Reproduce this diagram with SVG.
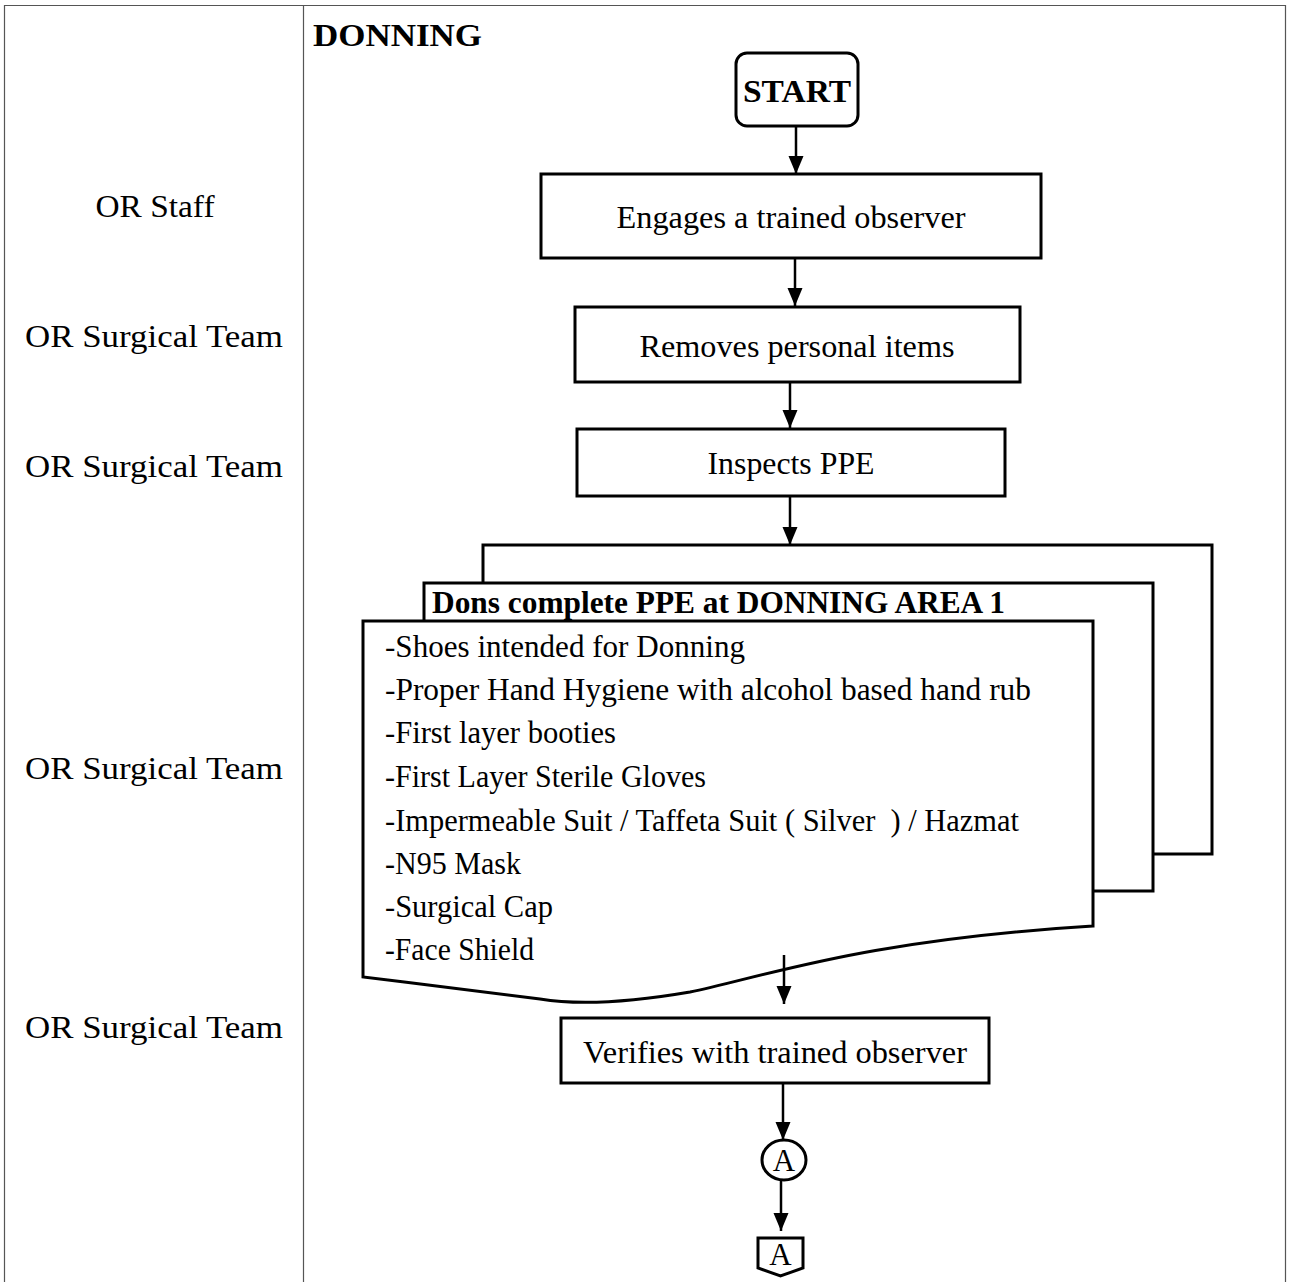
<svg xmlns="http://www.w3.org/2000/svg" width="1292" height="1282" viewBox="0 0 1292 1282">
  <style>
    .grid { fill: none; stroke: #555; stroke-width: 1.2; }
    .box { fill: #fff; stroke: #000; stroke-width: 3; }
    .edge { fill: none; stroke: #000; stroke-width: 2.5; }
    .t { font-family: "Liberation Serif", "DejaVu Serif", serif; font-size: 31px; fill: #000; }
    .c { text-anchor: middle; }
    .b { font-weight: bold; }
  </style>
  <defs>
    <marker id="tip" markerUnits="userSpaceOnUse" markerWidth="18" markerHeight="16" refX="18" refY="8" orient="auto" viewBox="0 0 18 16">
      <path d="M0,0.5 L18,8 L0,15.5 Z" fill="#000"/>
    </marker>
  </defs>

  <rect width="1292" height="1282" fill="#fff"/>

  <!-- swimlane table frame -->
  <g id="frame">
    <path class="grid" d="M4.5,1282 V5.5 H1285.5 V1282"/>
    <path class="grid" d="M303.5,5.5 V1282"/>
    <text class="t b" x="313" y="46" textLength="169" lengthAdjust="spacingAndGlyphs">DONNING</text>
  </g>

  <!-- role labels -->
  <g id="lanes">
    <text class="t c" x="155" y="217" textLength="119" lengthAdjust="spacingAndGlyphs">OR Staff</text>
    <text class="t c" x="154" y="347" textLength="258" lengthAdjust="spacingAndGlyphs">OR Surgical Team</text>
    <text class="t c" x="154" y="477" textLength="258" lengthAdjust="spacingAndGlyphs">OR Surgical Team</text>
    <text class="t c" x="154" y="779" textLength="258" lengthAdjust="spacingAndGlyphs">OR Surgical Team</text>
    <text class="t c" x="154" y="1038" textLength="258" lengthAdjust="spacingAndGlyphs">OR Surgical Team</text>
  </g>

  <g id="start">
    <rect class="box" x="736" y="53" width="122" height="73" rx="11"/>
    <text class="t c b" x="797" y="102" textLength="108" lengthAdjust="spacingAndGlyphs">START</text>
  </g>

  <g id="engage">
    <rect class="box" x="541" y="174" width="500" height="84"/>
    <text class="t c" x="791" y="228" textLength="349" lengthAdjust="spacingAndGlyphs">Engages a trained observer</text>
  </g>

  <g id="remove">
    <rect class="box" x="575" y="307" width="445" height="75"/>
    <text class="t c" x="797" y="357" textLength="315" lengthAdjust="spacingAndGlyphs">Removes personal items</text>
  </g>

  <g id="inspect">
    <rect class="box" x="577" y="429" width="428" height="67"/>
    <text class="t c" x="791" y="474" textLength="167" lengthAdjust="spacingAndGlyphs">Inspects PPE</text>
  </g>

  <!-- stacked multi-document: donning checklist -->
  <g id="don">
    <rect class="box" x="483" y="545" width="729" height="309"/>
    <rect class="box" x="424" y="583" width="729" height="308"/>
    <text class="t b" x="432" y="613" textLength="573" lengthAdjust="spacingAndGlyphs">Dons complete PPE at DONNING AREA 1</text>
    <path class="box" d="M363,621 H1093 V926 C860,940 760,978 690,992 C620,1004 570,1004 540,999 C470,990 420,984 363,977 Z"/>
    <text class="t" x="385" y="657" textLength="360" lengthAdjust="spacingAndGlyphs">-Shoes intended for Donning</text>
    <text class="t" x="385" y="700" textLength="646" lengthAdjust="spacingAndGlyphs">-Proper Hand Hygiene with alcohol based hand rub</text>
    <text class="t" x="385" y="743" textLength="231" lengthAdjust="spacingAndGlyphs">-First layer booties</text>
    <text class="t" x="385" y="787" textLength="321" lengthAdjust="spacingAndGlyphs">-First Layer Sterile Gloves</text>
    <text class="t" x="385" y="831" textLength="634" lengthAdjust="spacingAndGlyphs" xml:space="preserve">-Impermeable Suit / Taffeta Suit ( Silver  ) / Hazmat</text>
    <text class="t" x="385" y="874" textLength="136" lengthAdjust="spacingAndGlyphs">-N95 Mask</text>
    <text class="t" x="385" y="917" textLength="168" lengthAdjust="spacingAndGlyphs">-Surgical Cap</text>
    <text class="t" x="385" y="960" textLength="149" lengthAdjust="spacingAndGlyphs">-Face Shield</text>
  </g>

  <g id="verify">
    <rect class="box" x="561" y="1018" width="428" height="65"/>
    <text class="t c" x="775" y="1063" textLength="384" lengthAdjust="spacingAndGlyphs">Verifies with trained observer</text>
  </g>

  <g id="connector-a">
    <ellipse class="box" cx="784" cy="1160" rx="22" ry="20" stroke-width="2.5"/>
    <text class="t c" x="784" y="1171">A</text>
  </g>

  <g id="offpage-a">
    <path class="box" stroke-width="2.5" d="M758,1238 H803 V1268 L780.5,1276 L758,1268 Z"/>
    <text class="t c" x="780.5" y="1265">A</text>
  </g>

  <!-- connectors (drawn last so the checklist exit arrow stays visible over the wavy edge) -->
  <g id="connectors">
    <line class="edge" x1="796" y1="126" x2="796" y2="174" marker-end="url(#tip)"/>
    <line class="edge" x1="795" y1="258" x2="795" y2="306" marker-end="url(#tip)"/>
    <line class="edge" x1="790" y1="382" x2="790" y2="428" marker-end="url(#tip)"/>
    <line class="edge" x1="790" y1="497" x2="790" y2="545" marker-end="url(#tip)"/>
    <line class="edge" x1="784" y1="955" x2="784" y2="1004" marker-end="url(#tip)"/>
    <line class="edge" x1="783" y1="1084" x2="783" y2="1140" marker-end="url(#tip)"/>
    <line class="edge" x1="781" y1="1180" x2="781" y2="1231" marker-end="url(#tip)"/>
  </g>
</svg>
